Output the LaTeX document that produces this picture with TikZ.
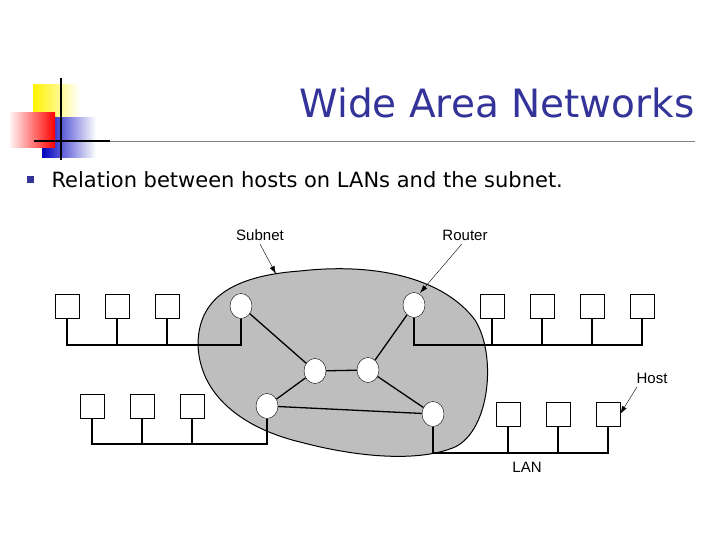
\documentclass[tikz,border=0pt]{standalone}
\usepackage{fontspec}
\setmainfont{DejaVu Sans}
\newfontfamily\labelfont{Liberation Sans}
\definecolor{navy}{HTML}{333399}
\definecolor{subgray}{HTML}{BEBEBE}
\usetikzlibrary{shadings,shapes.geometric,arrows.meta}
\tikzset{
  host/.style={draw, fill=white, minimum width=24pt, minimum height=24pt, inner sep=0pt},
  router/.style={draw, fill=white, ellipse, minimum width=22pt, minimum height=25pt, inner sep=0pt},
  lbl/.style={font=\labelfont\fontsize{15}{15}\selectfont},
  wire/.style={line width=1.3pt},
  pointer/.style={-{Latex[length=8pt,width=5pt]}}
}
\begin{document}
\begin{tikzpicture}[x=1pt,y=-1pt]
	\useasboundingbox (0,0) rectangle (720,540);
	% logo
	\shade[left color=yellow!90!orange, right color=white] (33,85) rectangle (80,130);
	\shade[left color=blue!75!black, right color=white] (42,118) rectangle (96,158);
	\shade[left color=red!5, right color=red] (10,113) rectangle (55,148);
	\draw[line width=2pt] (61,78) -- (61,160);
	\draw[line width=1.5pt] (34,141) -- (110,141);
	\draw[gray, line width=0.8pt] (110,141) -- (695,141);
	% title and bullet
	\node[navy, anchor=east, font=\fontsize{39}{39}\selectfont] (title) at (698,103) {Wide Area Networks};
	\fill[navy] (27,176) rectangle (34,183);
	\node[anchor=west, font=\fontsize{21}{21}\selectfont] (bullet) at (48,180) {Relation between hosts on LANs and the subnet.};
	% subnet
	\draw[fill=subgray, line width=1pt] (300,271) .. controls (380,262) and (445,280) .. (475,320)
		.. controls (497,355) and (490,430) .. (455,447)
		.. controls (420,462) and (360,458) .. (300,442)
		.. controls (250,430) and (200,400) .. (198,345)
		.. controls (198,300) and (230,276) .. (300,271);
	% routers
	\node[router] (r1) at (241,306) {};
	\node[router] (r2) at (414,305) {};
	\node[router] (r3) at (315,371) {};
	\node[router] (r4) at (368,370) {};
	\node[router] (r5) at (267,406) {};
	\node[router] (r6) at (433,414) {};
	\draw[wire] (r1) -- (r3) (r3) -- (r4) (r4) -- (r2) (r3) -- (r5) (r4) -- (r6) (r5) -- (r6);
	% hosts
	\foreach \x [count=\i] in {67,117,167} {
		\node[host] (a\i) at (\x,306) {};
		\node[host] (c\i) at (\x+25,406) {};
	}
	\foreach \x [count=\i] in {492,542,592,642}
		\node[host] (b\i) at (\x,306) {};
	\foreach \x [count=\i] in {508,558,608}
		\node[host] (d\i) at (\x,414) {};
	% LANs
	\draw[wire] (a1.south) |- (r1.south |- 0,345) -- (r1.south);
	\draw[wire] (a2.south) -- (a2.south |- 0,345) (a3.south) -- (a3.south |- 0,345);
	\draw[wire] (r2.south) |- (b4.south |- 0,345) -- (b4.south);
	\foreach \i in {1,2,3} \draw[wire] (b\i.south) -- (b\i.south |- 0,345);
	\draw[wire] (c1.south) |- (r5.south |- 0,444) -- (r5.south);
	\draw[wire] (c2.south) -- (c2.south |- 0,444) (c3.south) -- (c3.south |- 0,444);
	\draw[wire] (r6.south) |- (d3.south |- 0,453) -- (d3.south);
	\draw[wire] (d1.south) -- (d1.south |- 0,453) (d2.south) -- (d2.south |- 0,453);
	% labels
	\node[lbl] (subnet) at (260,235) {Subnet};
	\node[lbl] (router) at (465,235) {Router};
	\node[lbl] (hostlbl) at (652,378) {Host};
	\node[lbl] (lan) at (527,467) {LAN};
	\coordinate (subtip) at (276,274);
	\coordinate (routip) at (420,293);
	\draw[pointer] (subnet.south) -- (subtip);
	\draw[pointer] (router.south) ++(-3,0) -- (routip);
	\draw[pointer] (hostlbl.south west) ++(4,0) -- (d3.east);
\end{tikzpicture}
\end{document}
